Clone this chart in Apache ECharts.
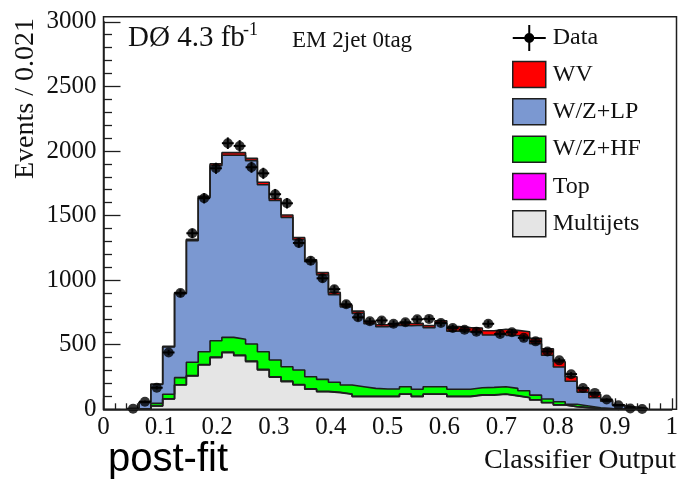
<!DOCTYPE html>
<html><head><meta charset="utf-8">
<script src="https://cdn.jsdelivr.net/npm/echarts@6/dist/echarts.min.js"></script>
<style>html,body{margin:0;padding:0;background:#fff}#c{width:681px;height:480px}</style>
</head><body><div id="c"></div>
<script>
// Histogram binning (classifier output), 44 bins of width 1/48 starting at 2/48
const firstEdge = 2 / 48;
const binWidth = 1 / 48;
const xTickLabels = ['0','0.1','0.2','0.3','0.4','0.5','0.6','0.7','0.8','0.9','1'];

const dataVals = [5,59,167,440,900,1363,1634,1866,2060,2039,1874,1827,1665,1595,1288,1150,1014,930,813,712,681,688,662,674,697,700,668,630,616,600,662,583,597,553,526,448,379,272,165,127,76,32,6,2];
const dataErr  = [2,8,13,21,30,37,40,43,45,45,43,43,41,40,36,34,32,30,29,27,26,26,26,26,26,26,26,25,25,24,26,24,24,24,23,21,19,16,13,11,9,6,2,1];

const multijets = [0.5,2,25,80,188,258,343,400,438,415,369,304,248,214,188,155,136,129,116,98,98,98,98,116,98,116,116,98,98,110,110,116,103,90,72,51,33,20,12,6,3,1.5,0.8,0.2];
const topQ      = [0,0,0,1,2,3,4,5,5,5,5,5,4,4,4,3,3,3,3,3,3,3,3,3,3,3,3,3,3,3,3,3,3,2,2,2,1,1,1,0.5,0.5,0.2,0.1,0];
const wzhf      = [0.5,3,21,35,55,103,99,126,114,122,132,137,130,112,112,94,93,77,69,74,61,56,56,56,54,56,56,54,54,54,57,56,56,52,36,27,25,18,13,5.5,2.5,1.3,0.6,0.3];
const wzlp      = [1,49,146,366,650,942,1192,1354,1410,1425,1419,1292,1235,1156,1009,891,809,679,605,568,501,482,495,472,496,456,491,450,445,425,405,413,409,412,398,338,269,178,107,78,56,27,14.5,3.5];
const wv        = [0,1,3,5,8,10,12,15,20,20,18,20,15,18,16,15,17,17,15,17,15,16,16,17,15,17,20,35,32,38,33,32,40,45,42,50,40,35,30,24,10,5,2,1];

const nBins = dataVals.length;
const edges = [];
for (let i = 0; i <= nBins; i++) edges.push(firstEdge + i * binWidth);
const centers = [];
for (let i = 0; i < nBins; i++) centers.push(firstEdge + (i + 0.5) * binWidth);

function cumul(list) {
  return dataVals.map((_, i) => list.reduce((s, a) => s + a[i], 0));
}
const c1 = cumul([multijets]);
const c2 = cumul([multijets, topQ]);
const c3 = cumul([multijets, topQ, wzhf]);
const c4 = cumul([multijets, topQ, wzhf, wzlp]);
const c5 = cumul([multijets, topQ, wzhf, wzlp, wv]);

function stepPts(c) {
  const p = [[edges[0], 0]];
  for (let i = 0; i < nBins; i++) p.push([edges[i], c[i]]);
  p.push([edges[nBins], c[nBins - 1]]);
  p.push([edges[nBins], 0]);
  return p;
}

const colors = { WV: '#ff0000', LP: '#7b98d1', HF: '#00ff00', Top: '#ff00ff', MJ: '#e5e5e5' };
const outline = '#1e1e1e';
const serif = 'Liberation Serif';

function fillSeries(name, c, color) {
  return {
    name: name, type: 'line', step: 'end', data: stepPts(c), symbol: 'none',
    lineStyle: { width: 0, opacity: 0 }, areaStyle: { color: color, opacity: 1 },
    itemStyle: { color: color }, silent: true, animation: false, z: 2
  };
}
function lineSeries(c) {
  return {
    name: 'outline', type: 'line', step: 'end', data: stepPts(c), symbol: 'none',
    lineStyle: { width: 1.6, color: outline }, silent: true, animation: false, z: 3
  };
}

const errData = centers.map((x, i) => [x, dataVals[i], dataErr[i]]);
const dotData = centers.map((x, i) => [x, dataVals[i]]);

const dataIcon = 'path://M0,12 L33,12 L33,14 L0,14 Z M15.5,0 L17.5,0 L17.5,26 L15.5,26 Z M11.5,13 A5,5 0 1,1 21.5,13 A5,5 0 1,1 11.5,13 Z';
const boxStyle = (c) => ({ color: c, borderColor: outline, borderWidth: 1.5 });

const option = {
  animation: false,
  backgroundColor: '#ffffff',
  grid: { left: 103.5, right: 4.5, top: 21.8, bottom: 70.7, containLabel: false },
  xAxis: {
    type: 'value', min: 0, max: 1, interval: 0.1,
    axisLine: { show: true, lineStyle: { color: outline, width: 1.5 } },
    axisTick: { show: true, inside: true, length: 11, lineStyle: { color: outline, width: 1.3 } },
    minorTick: { show: true, splitNumber: 5, length: 6, lineStyle: { color: outline, width: 1.3 } },
    splitLine: { show: false },
    axisLabel: {
      margin: 6, fontFamily: serif, fontSize: 25, color: '#111',
      formatter: (v) => xTickLabels[Math.round(v * 10)]
    }
  },
  yAxis: {
    type: 'value', min: 0, max: 3000, interval: 500,
    axisLine: { show: true, lineStyle: { color: outline, width: 1.5 } },
    axisTick: { show: true, inside: true, length: 17, lineStyle: { color: outline, width: 1.3 } },
    minorTick: { show: true, splitNumber: 5, length: 8.5, lineStyle: { color: outline, width: 1.3 } },
    splitLine: { show: false },
    axisLabel: { margin: 7, fontFamily: serif, fontSize: 25, color: '#111', formatter: (v) => String(v) }
  },
  legend: {
    orient: 'vertical', left: 512, top: 25, padding: 0, itemWidth: 33, itemHeight: 26, itemGap: 9.8,
    textStyle: { fontFamily: serif, fontSize: 24, lineHeight: 26, color: '#111', padding: [0, 0, 0, 2] },
    selectedMode: false,
    data: [
      { name: 'Data', icon: dataIcon, itemStyle: { color: '#000', borderWidth: 0 } },
      { name: 'WV', icon: 'rect', itemStyle: boxStyle(colors.WV) },
      { name: 'W/Z+LP', icon: 'rect', itemStyle: boxStyle(colors.LP) },
      { name: 'W/Z+HF', icon: 'rect', itemStyle: boxStyle(colors.HF) },
      { name: 'Top', icon: 'rect', itemStyle: boxStyle(colors.Top) },
      { name: 'Multijets', icon: 'rect', itemStyle: boxStyle(colors.MJ) }
    ]
  },
  graphic: [
    { type: 'rect', z: 100, silent: true, shape: { x: 103.5, y: 16.7, width: 573, height: 392.6 },
      style: { fill: 'none', stroke: outline, lineWidth: 1.5 } },
    { type: 'text', z: 100, x: 26, y: 18, rotation: Math.PI / 2,
      style: { text: 'Events / 0.021', font: '28px "Liberation Serif"', fill: '#111', textAlign: 'right', textVerticalAlign: 'middle' } },
    { type: 'text', z: 100, x: 676, y: 461,
      style: { text: 'Classifier Output', font: '28px "Liberation Serif"', fill: '#111', textAlign: 'right', textVerticalAlign: 'middle' } },
    { type: 'text', z: 100, x: 108, y: 460,
      style: { text: 'post-fit', font: '40px "Liberation Sans"', fill: '#000', textAlign: 'left', textVerticalAlign: 'middle' } },
    { type: 'text', z: 100, x: 128, y: 38.5,
      style: { text: 'DØ 4.3 fb', font: '29px "Liberation Serif"', fill: '#111', textAlign: 'left', textVerticalAlign: 'middle' } },
    { type: 'text', z: 100, x: 243, y: 30,
      style: { text: '-1', font: '18px "Liberation Serif"', fill: '#111', textAlign: 'left', textVerticalAlign: 'middle' } },
    { type: 'text', z: 100, x: 292, y: 41,
      style: { text: 'EM 2jet 0tag', font: '23px "Liberation Serif"', fill: '#111', textAlign: 'left', textVerticalAlign: 'middle' } }
  ],
  series: [
    fillSeries('WV', c5, colors.WV),
    fillSeries('W/Z+LP', c4, colors.LP),
    fillSeries('W/Z+HF', c3, colors.HF),
    fillSeries('Top', c2, colors.Top),
    fillSeries('Multijets', c1, colors.MJ),
    lineSeries(c5), lineSeries(c4), lineSeries(c3), lineSeries(c2), lineSeries(c1),
    {
      name: 'Data', type: 'custom', data: errData, z: 5, silent: true, animation: false,
      itemStyle: { color: '#000' },
      renderItem: function (params, api) {
        const x = api.value(0), y = api.value(1), e = api.value(2);
        const pLo = api.coord([x, Math.max(0, y - e)]);
        const pHi = api.coord([x, y + e]);
        const pL = api.coord([x - binWidth / 2, y]);
        const pR = api.coord([x + binWidth / 2, y]);
        return { type: 'group', children: [
          { type: 'line', shape: { x1: pLo[0], y1: pLo[1], x2: pHi[0], y2: pHi[1] }, style: { stroke: '#000', lineWidth: 2 } },
          { type: 'line', shape: { x1: pL[0], y1: pL[1], x2: pR[0], y2: pR[1] }, style: { stroke: '#000', lineWidth: 2 } }
        ] };
      }
    },
    {
      name: 'Data', type: 'scatter', data: dotData, symbol: 'circle', symbolSize: 10, z: 6,
      itemStyle: { color: '#000' }, silent: true, animation: false
    }
  ]
};

const chart = echarts.init(document.getElementById('c'), null, { renderer: 'canvas' });
chart.setOption(option);
</script>
</body></html>
